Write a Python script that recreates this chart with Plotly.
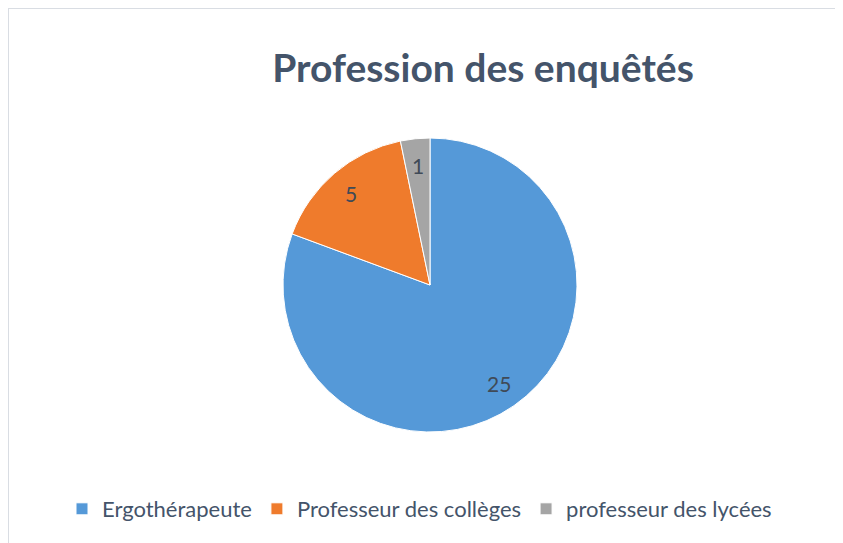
import math
import plotly.graph_objects as go

labels = ["Ergothérapeute", "Professeur des collèges", "professeur des lycées"]
values = [25, 5, 1]
colors = ["#5599D8", "#EF7B2C", "#A5A5A5"]
title = "Profession des enquêtés"

# page has an 8px body margin, so the figure is sized to the rest of the window
OFF = 8
W, H = 843 - OFF, 543 - OFF
cx, cy, r = 430 - OFF, 285 - OFF, 147


def px(x):
    return x / W


def py(y):
    return 1 - y / H


fig = go.Figure(go.Pie(
    labels=labels,
    values=values,
    sort=False,
    direction="clockwise",
    rotation=0,
    marker=dict(colors=colors, line=dict(color="white", width=1)),
    textinfo="none",
    domain=dict(x=[px(cx - r), px(cx + r)], y=[py(cy + r), py(cy - r)]),
    hoverinfo="label+value",
))

# data labels at ~82% of the radius, like Excel does
total = sum(values)
cum = 0
for v in values:
    theta = 2 * math.pi * (cum + v / 2) / total
    cum += v
    lx = cx + 0.82 * r * math.sin(theta)
    ly = cy - 0.82 * r * math.cos(theta)
    fig.add_annotation(x=px(lx), y=py(ly), xref="paper", yref="paper", text=str(v),
                       xanchor="center", yanchor="middle", showarrow=False,
                       font=dict(family="Lato", size=21, color="#404A57"))

fig.update_layout(
    width=W, height=H,
    margin=dict(l=0, r=0, t=0, b=0),
    paper_bgcolor="white",
    font=dict(family="Lato", color="#44546A"),
    title=dict(text="<b>" + title + "</b>", x=px(483 - OFF), xanchor="center",
               y=py(68 - OFF), yanchor="middle",
               font=dict(family="Lato", size=39, color="#44546A")),
    legend=dict(orientation="h", x=px(62 - OFF), xanchor="left", y=py(509 - OFF), yanchor="middle",
                font=dict(family="Lato", size=22, color="#44546A"),
                bgcolor="rgba(0,0,0,0)"),
    shapes=[
        dict(type="line", xref="paper", yref="paper", x0=0, x1=1, y0=1, y1=1,
             line=dict(color="#D9DDE3", width=2)),
        dict(type="line", xref="paper", yref="paper", x0=0, x1=0, y0=0, y1=1,
             line=dict(color="#D9DDE3", width=2)),
    ],
)

fig.write_html("out.html")
